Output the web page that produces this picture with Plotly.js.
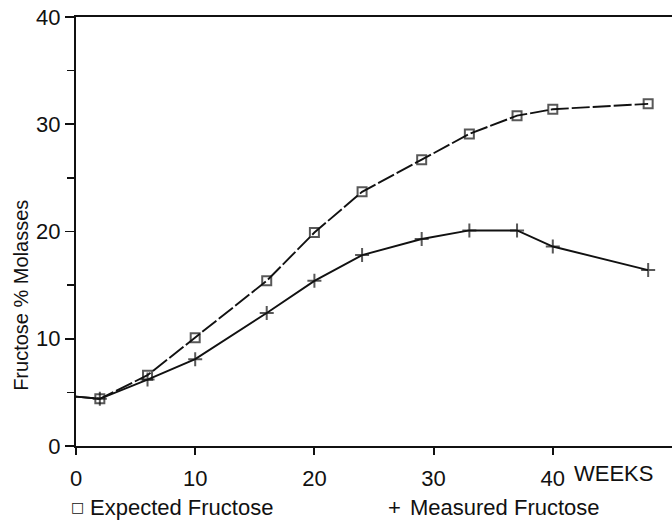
<!DOCTYPE html>
<html>
<head>
<meta charset="utf-8">
<script src="https://cdn.plot.ly/plotly-3.0.1.min.js"></script>
<style>html,body{margin:0;padding:0;background:#fff;}#chart{width:672px;height:520px;}</style>
</head>
<body>
<div id="chart"></div>
<script>
// Data
const weeks = [0, 2, 6, 10, 16, 20, 24, 29, 33, 37, 40, 48];
const expectedFructose = [4.6, 4.4, 6.6, 10.1, 15.4, 19.9, 23.7, 26.7, 29.1, 30.8, 31.4, 31.9];
const measuredFructose = [4.6, 4.4, 6.2, 8.1, 12.4, 15.4, 17.8, 19.3, 20.1, 20.1, 18.6, 16.4];
const xTickValues = [0, 10, 20, 30, 40];
const xTickLabels = ['0', '10', '20', '30', '40'];
const yTickValues = [0, 10, 20, 30, 40];
const yTickLabels = ['0', '10', '20', '30', '40'];
const xUnitLabel = 'WEEKS';
const yTitle = 'Fructose % Molasses';
const legendNames = ['Expected Fructose', 'Measured Fructose'];

const FONT = 'Liberation Sans, Arial, Helvetica, sans-serif';
const INK = '#111';
const sizes = weeks.map(w => (w === 0 ? 0 : 9));

const traces = [
  {
    x: weeks, y: expectedFructose, name: legendNames[0],
    mode: 'lines+markers', type: 'scatter',
    line: {color: INK, width: 1.9, dash: '18px,3px'},
    marker: {symbol: 'square-open', size: sizes, color: INK, line: {width: 2, color: INK}},
    cliponaxis: false
  },
  {
    x: weeks, y: measuredFructose, name: legendNames[1],
    mode: 'lines+markers', type: 'scatter',
    line: {color: INK, width: 1.9},
    marker: {symbol: 'cross-thin-open', size: sizes.map(s => s + 1), color: INK, line: {width: 2, color: INK}},
    cliponaxis: false
  }
];

const layout = {
  width: 672, height: 520,
  margin: {l: 76, r: 0, t: 17, b: 74},
  paper_bgcolor: '#fff', plot_bgcolor: '#fff',
  showlegend: false,
  font: {family: FONT, color: INK, size: 22},
  xaxis: {
    range: [0, 50], tickmode: 'array', tickvals: xTickValues, ticktext: xTickLabels,
    ticks: 'outside', ticklen: 7, tickwidth: 1.8, tickcolor: INK,
    ticklabelstandoff: 4,
    showline: true, linewidth: 2.2, linecolor: INK, mirror: true,
    showgrid: false, zeroline: false,
    tickfont: {family: FONT, size: 22, color: INK}
  },
  yaxis: {
    range: [0, 40], tickmode: 'array', tickvals: yTickValues, ticktext: yTickLabels,
    ticks: 'outside', ticklen: 9, tickwidth: 1.8, tickcolor: INK,
    minor: {dtick: 5, ticks: 'outside', ticklen: 7, tickwidth: 1.6, tickcolor: INK, showgrid: false},
    showline: true, linewidth: 2.2, linecolor: INK, mirror: false,
    showgrid: false, zeroline: false,
    tickfont: {family: FONT, size: 22, color: INK}
  },
  annotations: [
    {text: xUnitLabel, xref: 'x', x: 40, xshift: 19, xanchor: 'left',
     yref: 'paper', y: 0, yanchor: 'top', yshift: -13, showarrow: false,
     font: {family: FONT, size: 22, color: INK}},
    {text: yTitle, xref: 'paper', x: 0, xshift: -55, xanchor: 'center',
     yref: 'y', y: 14.0, yanchor: 'middle', textangle: -90, showarrow: false,
     font: {family: FONT, size: 20, color: INK}},
    {text: '\u25A1', xref: 'paper', x: 0, xshift: 1, xanchor: 'center',
     yref: 'paper', y: 0, yanchor: 'middle', yshift: -61, showarrow: false,
     font: {family: 'DejaVu Sans, sans-serif', size: 14, color: INK}},
    {text: legendNames[0], xref: 'paper', x: 0, xshift: 12, xanchor: 'left',
     yref: 'paper', y: 0, yanchor: 'middle', yshift: -61, showarrow: false,
     font: {family: FONT, size: 22, color: INK}},
    {text: '+', xref: 'paper', x: 0, xshift: 318, xanchor: 'center',
     yref: 'paper', y: 0, yanchor: 'middle', yshift: -61, showarrow: false,
     font: {family: FONT, size: 22, color: INK}},
    {text: legendNames[1], xref: 'paper', x: 0, xshift: 332, xanchor: 'left',
     yref: 'paper', y: 0, yanchor: 'middle', yshift: -61, showarrow: false,
     font: {family: FONT, size: 22, color: INK}}
  ]
};

Plotly.newPlot('chart', traces, layout, {staticPlot: true, displayModeBar: false});
</script>
</body>
</html>
